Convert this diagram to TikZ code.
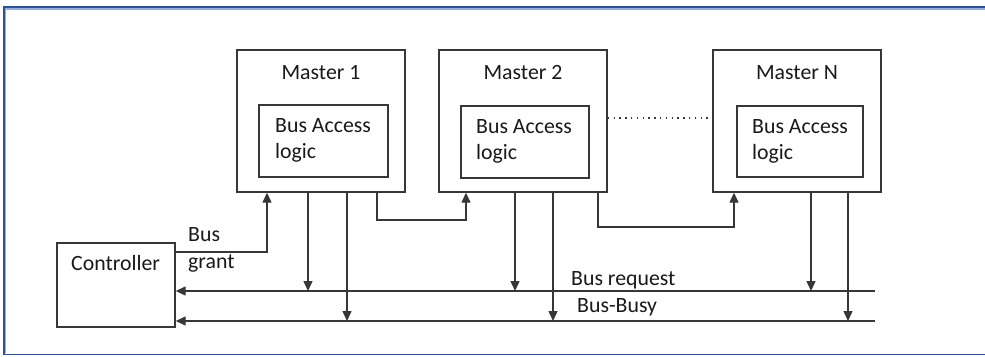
\documentclass[tikz,border=0pt]{standalone}
\usepackage{fontspec}
\setmainfont{Carlito}
\usetikzlibrary{arrows.meta}

\definecolor{framedark}{RGB}{47,80,145}
\definecolor{framelight}{RGB}{150,175,220}
\definecolor{inkline}{RGB}{55,55,55}
\definecolor{inktext}{RGB}{25,25,25}

\tikzset{
  box/.style={draw=inkline, line width=1.4pt, rectangle, inner sep=0pt},
  txt/.style={text=inktext, inner sep=0pt, font=\fontsize{21.8}{26}\selectfont},
  wire/.style={draw=inkline, line width=1.4pt},
  arr/.style={wire, -{Triangle[width=9pt,length=10pt]}},
}

\begin{document}
\begin{tikzpicture}[x=1pt, y=-1pt]
\useasboundingbox (0,0) rectangle (985,356);
\fill[white] (0,0) rectangle (985,356);

% outer frame (open on the right)
\draw[framelight, line width=1.4pt] (985,8.8) -- (5.6,8.8) -- (5.6,353);
\draw[framedark, line width=1.8pt] (985,7.2) -- (4.2,7.2) -- (4.2,354.5) -- (985,354.5);

% masters
\node[box, minimum width=168pt, minimum height=142pt] (m1) at (321,121) {};
\node[box, minimum width=129pt, minimum height=72pt] (b1) at (323.5,141) {};
\node[txt, anchor=base] (m1t) at (m1.north |- 0,79) {Master 1};
\node[txt, anchor=base west] (b1a) at (275,132) {Bus Access};
\node[txt, anchor=base west] (b1b) at (275,158) {logic};

\node[box, minimum width=168pt, minimum height=142pt] (m2) at (523,121) {};
\node[box, minimum width=128pt, minimum height=72pt] (b2) at (525,142) {};
\node[txt, anchor=base] (m2t) at (m2.north |- 0,79) {Master 2};
\node[txt, anchor=base west] (b2a) at (476,133) {Bus Access};
\node[txt, anchor=base west] (b2b) at (476,159) {logic};

\node[box, minimum width=168pt, minimum height=142pt] (mn) at (797,121) {};
\node[box, minimum width=126pt, minimum height=71pt] (bn) at (800,141.5) {};
\node[txt, anchor=base] (mnt) at (mn.north |- 0,79) {Master N};
\node[txt, anchor=base west] (bna) at (752,133) {Bus Access};
\node[txt, anchor=base west] (bnb) at (752,159) {logic};

% dotted continuation between master 2 and master N
\draw[inkline, line width=1.2pt, dash pattern=on 1.4pt off 4.4pt] (m2.east |- 0,118) -- (mn.west |- 0,118);

% controller
\node[box, minimum width=118pt, minimum height=84pt] (ctl) at (116,285) {};
\node[txt, anchor=base west] (ctlt) at (71,270) {Controller};

% bus lines
\coordinate (reqE) at (875,291);
\coordinate (busyE) at (875,321);
\draw[arr] (reqE) -- (ctl.east |- reqE);
\draw[arr] (busyE) -- (ctl.east |- busyE);
\node[txt, anchor=base west] (reqt) at (571,285) {Bus request};
\node[txt, anchor=base west] (busyt) at (577,312) {Bus-Busy};

% request / busy taps from each master
\coordinate (r1) at (308,291);  \coordinate (y1) at (347,321);
\coordinate (r2) at (515,291);  \coordinate (y2) at (553,321);
\coordinate (rn) at (811,291);  \coordinate (yn) at (848,321);
\draw[arr] (m1.south -| r1) -- (r1);
\draw[arr] (m1.south -| y1) -- (y1);
\draw[arr] (m2.south -| r2) -- (r2);
\draw[arr] (m2.south -| y2) -- (y2);
\draw[arr] (mn.south -| rn) -- (rn);
\draw[arr] (mn.south -| yn) -- (yn);

% bus grant daisy chain
\coordinate (g0) at (267,252);
\draw[arr] (ctl.east |- g0) -- (g0) -- (m1.south -| g0);
\node[txt, anchor=base west] (gt1) at (188,241) {Bus};
\node[txt, anchor=base west] (gt2) at (188,268) {grant};

\coordinate (g1a) at (377,220);
\coordinate (g1b) at (466,220);
\draw[arr] (m1.south -| g1a) -- (g1a) -- (g1b) -- (m2.south -| g1b);

\coordinate (g2a) at (598,227);
\coordinate (g2b) at (734,227);
\draw[arr] (m2.south -| g2a) -- (g2a) -- (g2b) -- (mn.south -| g2b);
\end{tikzpicture}
\end{document}
